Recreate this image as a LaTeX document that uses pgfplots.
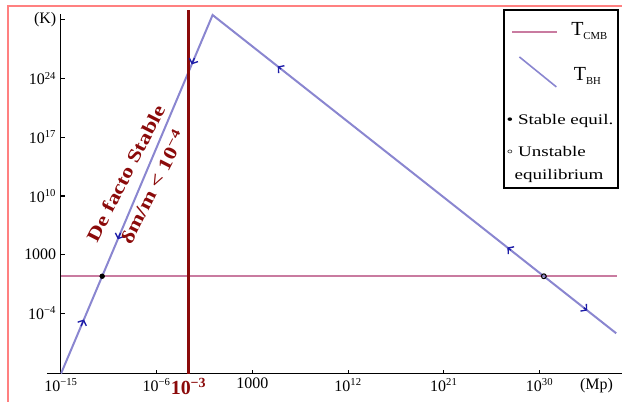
\documentclass[border=0pt]{standalone}
\usepackage{fontspec}
\setmainfont{Liberation Serif}
\usepackage{pgfplots}
\pgfplotsset{compat=1.18}
\usetikzlibrary{arrows.meta}
\definecolor{bh}{HTML}{8A86D0}
\definecolor{cmb}{HTML}{C97BA0}
\definecolor{dred}{HTML}{8B0A0A}
\definecolor{arr}{HTML}{1C1CA8}
\definecolor{frame}{HTML}{FF8080}
\tikzset{flow/.style={draw=arr, line width=1pt, -{Straight Barb[length=3pt,width=7pt,line width=1pt]}}}

\begin{document}
\begin{tikzpicture}
\begin{axis}[
    at={(0,0)}, anchor=south west,
    scale only axis,
    width=421.5pt, height=270pt,
    xmode=log, ymode=log,
    xmin=1e-15, xmax=5.9e37,
    ymin=6.8e-12, ymax=5e31,
    axis lines=left,
    axis line style={-, line width=0.8pt},
    tick align=inside,
    major tick length=3pt,
    tick style={black, line width=0.8pt},
    xminorticks=false, yminorticks=false,
    clip=false,
    xtick={1e-15,1e-6,1e3,1e12,1e21,1e30},
    xticklabels={10\textsuperscript{−15},10\textsuperscript{−6},1000,10\textsuperscript{12},10\textsuperscript{21},10\textsuperscript{30}},
    ytick={1e-4,1e3,1e10,1e17,1e24,1e31},
    yticklabels={10\textsuperscript{−4},1000,10\textsuperscript{10},10\textsuperscript{17},10\textsuperscript{24},(K)},
    ticklabel style={font=\fontsize{12}{12}\selectfont},
    extra x ticks={1e-3},
    extra x tick labels={\textbf{10\textsuperscript{−3}}},
    extra x tick style={major tick length=0pt, tick label style={text=dred, font=\fontsize{15}{15}\selectfont}},
    xlabel={(Mp)},
    xlabel style={at={(axis description cs:0.954,-0.035)}, anchor=center, font=\fontsize{12}{12}\selectfont},
]
% T_CMB
\addplot[cmb, line width=1.5pt] coordinates {(1e-15,2.725) (2e37,2.725)};
% T_BH
\addplot[bh, line width=1.5pt] coordinates {(1e-15,6.31e-12) (0.1815,3.77e31) (1.58e37,4.3e-7)};
% 10^-3 line
\addplot[dred, line width=2.2pt] coordinates {(1e-3,6.8e-12) (1e-3,1.5e32)};
% flow arrows
\addplot[flow] coordinates {(7.94e-14,3.16e-6) (1.445e-13,1.9e-5)};
\addplot[flow] coordinates {(3.98e-10,3.98e5) (2.24e-10,7.08e4)};
\addplot[flow] coordinates {(3.55e-3,2.82e26) (2.0e-3,5.0e25)};
\addplot[flow] coordinates {(5.0e5,1.36e25) (2.4e5,2.85e25)};
\addplot[flow] coordinates {(2.0e27,3.43e3) (9.33e26,7.33e3)};
\addplot[flow] coordinates {(1.41e34,4.84e-4) (3.02e34,2.26e-4)};
% equilibria
\addplot[only marks, mark=*, mark size=1.8pt, black] coordinates {(7.55e-12,2.725)};
\addplot[only marks, mark=o, mark size=1.8pt, black, mark options={fill=white, line width=0.8pt}] coordinates {(2.5e30,2.725)};
% annotation
\node[rotate=63, text=dred, align=center, inner sep=0pt,
      font=\bfseries\fontsize{14}{23}\selectfont] at (axis cs:2.62e-8,7.4e11)
      {\scalebox{1.25}[1]{De facto Stable}\\ \scalebox{1.25}[1]{δm/m < 10\textsuperscript{−4}}};
\end{axis}
% axis extension and frame
\draw[line width=0.8pt] (-10.5pt,0) -- (0,0);
\draw[frame, line width=1.1pt] (-39.75pt,-21pt) -- (-39.75pt,276pt) -- (421.5pt,276pt);
% legend
\draw[line width=1.5pt] (333pt,139.5pt) rectangle (418.5pt,273pt);
\draw[cmb, line width=1.5pt] (339pt,256.5pt) -- (372.75pt,256.5pt);
\node[anchor=base west, inner sep=0pt, font=\fontsize{15}{15}\selectfont] at (383pt,254pt) {T\raisebox{-3pt}{\fontsize{8}{8}\selectfont CMB}};
\draw[bh, line width=1.2pt] (344.25pt,237.75pt) -- (372pt,215.25pt);
\node[anchor=base west, inner sep=0pt, font=\fontsize{15}{15}\selectfont] at (385pt,220pt) {T\raisebox{-3pt}{\fontsize{8}{8}\selectfont BH}};
\node[anchor=base west, inner sep=0pt, font=\fontsize{11}{11}\selectfont] at (334.5pt,187pt) {\scalebox{1.3}[1]{• Stable equil.}};
\node[anchor=base west, inner sep=0pt, font=\fontsize{11}{11}\selectfont] at (334.5pt,163pt) {\scalebox{1.3}[1]{◦ Unstable}};
\node[anchor=base west, inner sep=0pt, font=\fontsize{11}{11}\selectfont] at (340.5pt,146pt) {\scalebox{1.3}[1]{equilibrium}};
\useasboundingbox (-45.75pt,-21pt) rectangle (421.5pt,280.5pt);
\end{tikzpicture}
\end{document}
